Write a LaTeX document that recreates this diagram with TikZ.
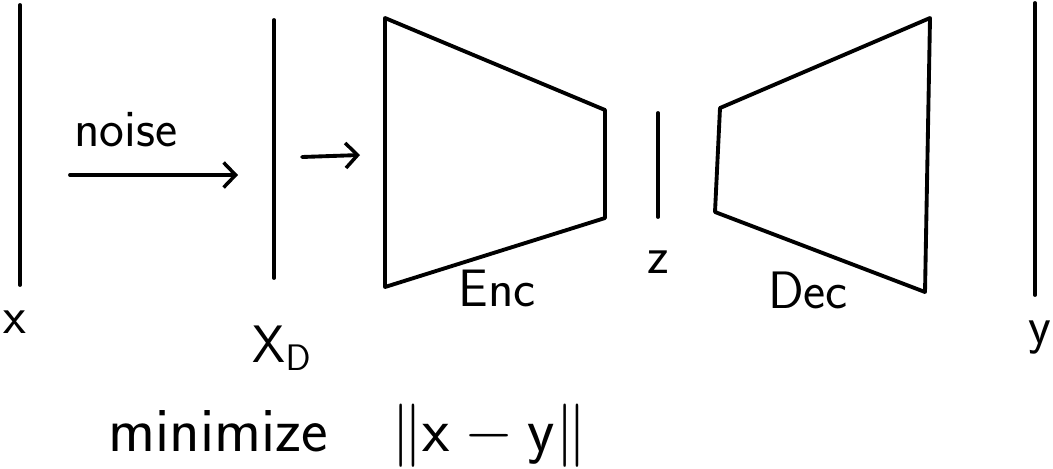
\RequirePackage{fix-cm}
\documentclass[tikz,border=0pt]{standalone}
\usepackage{amsmath}
\usepackage{tikz}
\usetikzlibrary{arrows.meta, positioning}

\begin{document}
\begin{tikzpicture}[
        x=0.02cm, y=-0.02cm,
        stroke/.style={line width=2.2pt, line cap=round, line join=round},
        flow/.style={stroke, -{Straight Barb[length=2.4mm, width=5mm, line width=2pt]}},
        hand/.style={font=\fontsize{30}{34}\selectfont\sffamily, inner sep=1pt}
    ]
    \useasboundingbox (0,0) rectangle (1053,468);

    % Signals
    \coordinate (xtop) at (20,5);      \coordinate (xbot) at (20,285);
    \coordinate (xdtop) at (274,20);   \coordinate (xdbot) at (274,278);
    \coordinate (ztop) at (658,113);   \coordinate (zbot) at (658,217);
    \coordinate (ytop) at (1035,3);    \coordinate (ybot) at (1035,295);

    % Encoder / decoder corners
    \coordinate (enctl) at (385,18);   \coordinate (encbl) at (385,287);
    \coordinate (enctr) at (605,110);  \coordinate (encbr) at (605,218);
    \coordinate (dectl) at (720,108);  \coordinate (decbl) at (715,212);
    \coordinate (dectr) at (930,18);   \coordinate (decbr) at (925,292);

    % Arrow ends
    \coordinate (noisestart) at (70,175);  \coordinate (noiseend) at (238,175);
    \coordinate (instart) at (302,157);    \coordinate (inend) at (360,155);

    % Labels
    \node[hand] (xlabel) at (15,322) {x};
    \node[hand] (xdlabel) at (282,348) {$\mathsf{X}_{\mathsf{D}}$};
    \node[hand] (noiselabel) at (126,130) {noise};
    \node[hand] (enclabel) at (497,288) {Enc};
    \node[hand] (zlabel) at (658,262) {z};
    \node[hand] (declabel) at (808,290) {Dec};
    \node[hand] (ylabel) at (1040,338) {y};
    \node[hand, font=\fontsize{36}{42}\selectfont\sffamily] (loss) at (348,436) {minimize\quad$\lVert\mathsf{x}-\mathsf{y}\rVert$};

    % Bars
    \draw[stroke] (xtop) -- (xbot);
    \draw[stroke] (xdtop) -- (xdbot);
    \draw[stroke] (ztop) -- (zbot);
    \draw[stroke] (ytop) -- (ybot);

    % Encoder and decoder
    \draw[stroke] (enctl) -- (enctr) -- (encbr) -- (encbl) -- cycle;
    \draw[stroke] (dectl) -- (dectr) -- (decbr) -- (decbl) -- cycle;

    % Arrows
    \draw[flow] (noisestart) -- (noiseend);
    \draw[flow] (instart) -- (inend);

\end{tikzpicture}
\end{document}
